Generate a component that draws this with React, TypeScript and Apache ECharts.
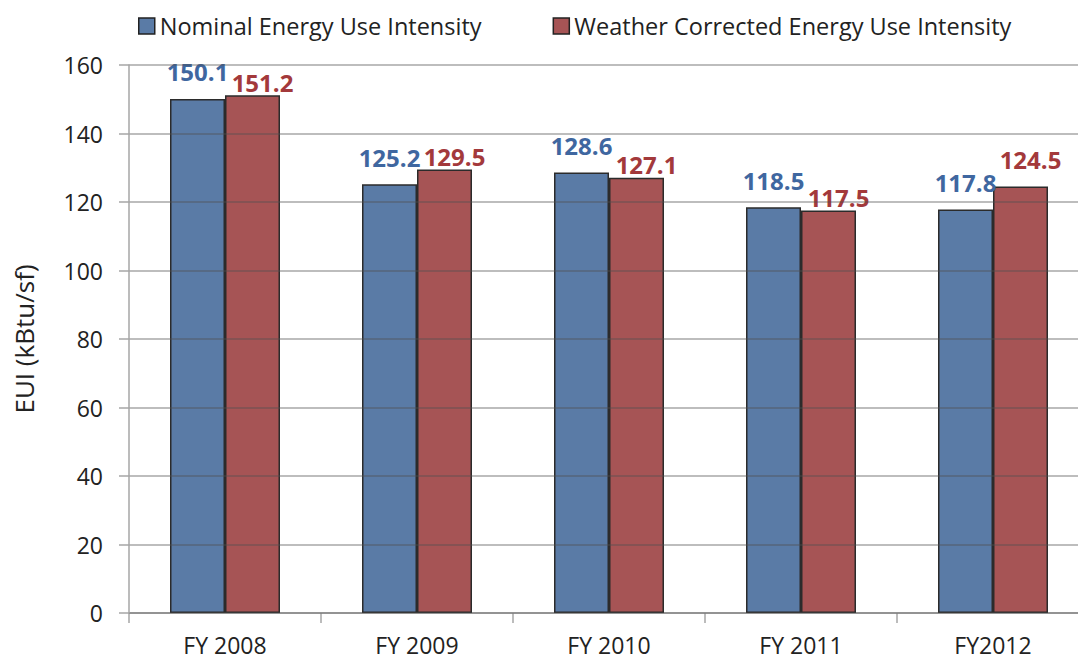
import React, { useEffect, useRef } from "react";
import * as echarts from "echarts";

const categories = ["FY 2008", "FY 2009", "FY 2010", "FY 2011", "FY2012"];
const nominal = [150.1, 125.2, 128.6, 118.5, 117.8];
const weather = [151.2, 129.5, 127.1, 117.5, 124.5];
const seriesNames = ["Nominal Energy Use Intensity", "Weather Corrected Energy Use Intensity"];
const yTicks = { min: 0, max: 160, interval: 20 };

const FONT = "Open Sans";

export default function App() {
  const ref = useRef<HTMLDivElement>(null);
  useEffect(() => {
    if (!ref.current) return;
    const chart = echarts.init(ref.current, null, { renderer: "svg" });
    chart.setOption({
      animation: false,
      textStyle: { fontFamily: FONT },
      legend: {
        top: 9,
        left: 133,
        itemWidth: 16,
        itemHeight: 16,
        itemGap: 71,
        icon: "rect",
        textStyle: { fontSize: 23.5, color: "#222", fontFamily: FONT },
        itemStyle: { borderColor: "#222", borderWidth: 1.5 },
        data: seriesNames,
      },
      grid: { left: 129, top: 65, width: 960, height: 548, outerBoundsMode: "none", containLabel: false },
      xAxis: {
        type: "category",
        data: categories,
        axisLine: { lineStyle: { color: "#a6a6a6", width: 1.5 } },
        axisTick: { show: true, length: 10, lineStyle: { color: "#a6a6a6", width: 1.5 } },
        axisLabel: { fontSize: 23, lineHeight: 23, color: "#222", margin: 20, fontFamily: FONT },
      },
      yAxis: {
        type: "value",
        min: yTicks.min,
        max: yTicks.max,
        interval: yTicks.interval,
        z: 5,
        name: "EUI (kBtu/sf)",
        nameLocation: "middle",
        nameRotate: 90,
        nameGap: 92,
        nameTextStyle: { fontSize: 26, color: "#222", fontFamily: FONT },
        axisLine: { show: true, lineStyle: { color: "#a6a6a6", width: 1.5 } },
        axisTick: { show: true, length: 10, lineStyle: { color: "#a6a6a6", width: 1.5 } },
        axisLabel: { fontSize: 23, color: "#222", margin: 26, fontFamily: FONT },
        splitLine: { show: true, lineStyle: { color: "rgba(80,80,80,0.5)", width: 1.5 } },
      },
      series: [
        {
          name: seriesNames[0],
          type: "bar",
          z: 2,
          data: nominal,
          barWidth: 55,
          barGap: "0%",
          itemStyle: { color: "#5A7BA6", borderColor: "#2b2b2b", borderWidth: 1.5 },
          label: {
            show: true,
            position: "top",
            distance: 15,
            fontSize: 24,
            fontWeight: "bold",
            color: "#3F67A0",
            fontFamily: FONT,
          },
        },
        {
          name: seriesNames[1],
          type: "bar",
          z: 2,
          data: weather.map((v, i) =>
            i === weather.length - 1 ? { value: v, label: { distance: 15 } } : v
          ),
          barWidth: 55,
          barGap: "0%",
          itemStyle: { color: "#A65455", borderColor: "#2b2b2b", borderWidth: 1.5 },
          label: {
            show: true,
            position: "top",
            distance: 1,
            offset: [10, 0],
            fontSize: 24,
            fontWeight: "bold",
            color: "#A3393B",
            fontFamily: FONT,
          },
        },
      ],
    });
    return () => chart.dispose();
  }, []);
  return (
    <div
      ref={ref}
      style={{ position: "fixed", left: 0, top: 0, width: 1078, height: 660, background: "#fff" }}
    />
  );
}
